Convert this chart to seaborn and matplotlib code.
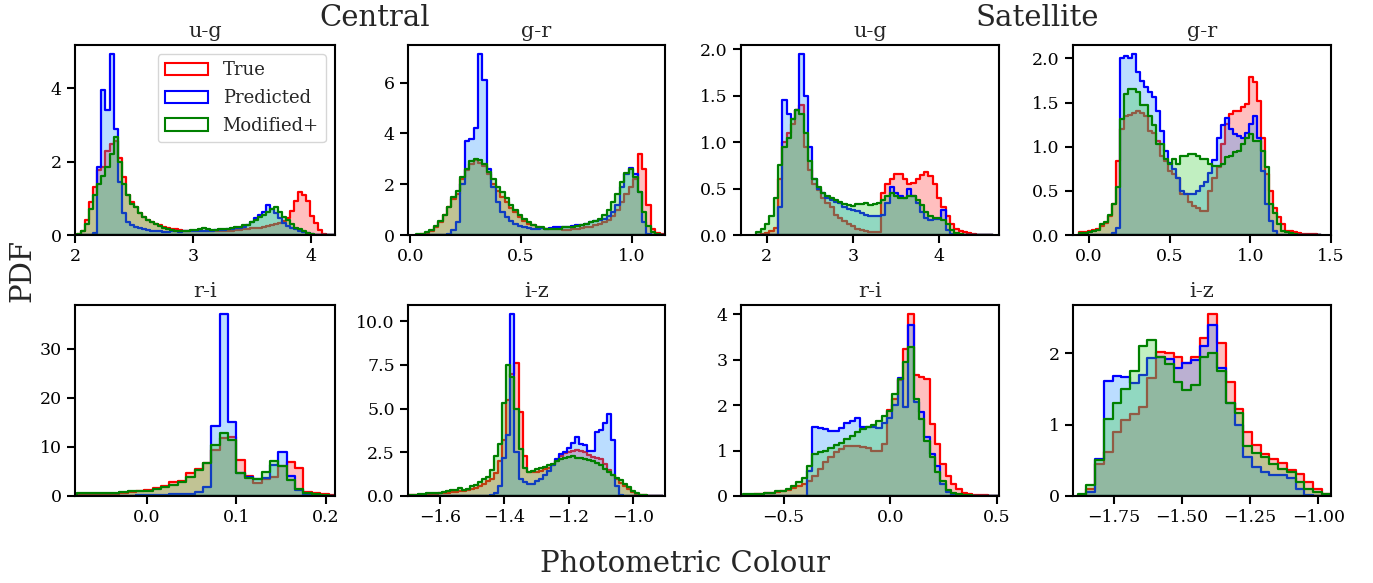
import numpy as np
import matplotlib
matplotlib.use("Agg")
import matplotlib.pyplot as plt
import seaborn as sns
from matplotlib.colors import to_rgba
from matplotlib.patches import Patch

# ---------------- data (PDF heights per bin) ----------------
series_names = ["True", "Predicted", "Modified+"]

# Central u-g : 64 bins on [2.02, 4.196]
cen_ug_bins = (2.02, 4.196, 64)
cen_ug_true = [0.03,0.1,0.4,0.9,1.3,1.77,1.85,2.3,2.47,2.55, 2.1,1.57,1.1,0.89,0.75,0.6,0.5,0.4,0.35,0.3,
               0.27,0.22,0.2,0.17,0.15,0.13,0.12,0.12,0.11,0.11, 0.1,0.1,0.11,0.1,0.11,0.12,0.11,0.12,0.12,0.13,
               0.14,0.15,0.16,0.18,0.18,0.2,0.22,0.25,0.27,0.3, 0.32,0.38,0.45,0.65,0.93,1.16,1.1,0.93,0.52,0.34,
               0.13,0.04,0.01,0.0]
cen_ug_pred = [0,0,0,0,0.05,1.85,3.96,3.4,4.93,2.88, 1.45,0.6,0.35,0.27,0.22,0.18,0.15,0.13,0.12,0.1,
               0.1,0.09,0.09,0.1,0.1,0.09,0.1,0.1,0.11,0.1, 0.11,0.12,0.11,0.12,0.13,0.13,0.14,0.15,0.16,0.18,
               0.2,0.23,0.28,0.35,0.45,0.55,0.62,0.82,0.72,0.6, 0.45,0.33,0.25,0.2,0.15,0.1,0.07,0.05,0.03,0.01,
               0,0,0,0]
cen_ug_mod = [0.02,0.1,0.3,0.7,1.1,1.4,1.6,1.85,2.2,2.68, 2.0,1.4,1.1,0.85,0.75,0.6,0.5,0.42,0.35,0.3,
              0.25,0.2,0.17,0.13,0.1,0.1,0.1,0.12,0.14,0.14, 0.16,0.18,0.16,0.14,0.14,0.15,0.17,0.17,0.2,0.22,
              0.22,0.27,0.28,0.35,0.4,0.5,0.55,0.62,0.7,0.75, 0.62,0.5,0.4,0.3,0.2,0.15,0.1,0.05,0.03,0.01,
              0,0,0,0]

# Central g-r : 56 bins on [0.026, 1.146]
cen_gr_bins = (0.026, 1.146, 56)
cen_gr_true = [0.01,0.03,0.08,0.15,0.3,0.5,0.8,1.1,1.4,1.6, 2.2,2.55,2.8,2.95,2.85,2.7,2.4,2.0,1.75,1.5,
               1.3,1.05,0.9,0.7,0.55,0.45,0.38,0.32,0.28,0.25, 0.23,0.22,0.22,0.2,0.2,0.22,0.25,0.28,0.3,0.33,
               0.38,0.45,0.5,0.6,0.75,1.0,1.3,1.6,1.9,2.2, 3.2,2.6,1.2,0.25,0.08,0.02]
cen_gr_pred = [0,0,0,0,0,0,0,0.05,0.2,0.5, 2.0,3.7,3.8,4.2,7.13,6.1,2.6,1.9,1.3,0.9,
               0.7,0.55,0.45,0.35,0.3,0.28,0.25,0.25,0.27,0.25, 0.28,0.3,0.32,0.32,0.33,0.35,0.38,0.4,0.45,0.5,
               0.55,0.6,0.65,0.75,0.9,1.2,1.9,2.4,2.65,2.4, 1.7,0.5,0.05,0,0,0]
cen_gr_mod = [0.02,0.05,0.1,0.2,0.35,0.55,0.8,1.1,1.5,1.75, 2.3,2.6,2.9,3.0,2.95,2.8,2.5,2.2,1.9,1.7,
              1.45,1.2,1.0,0.8,0.65,0.5,0.4,0.3,0.3,0.25, 0.25,0.22,0.25,0.3,0.3,0.32,0.35,0.4,0.45,0.5,
              0.55,0.65,0.8,1.0,1.3,1.6,2.1,2.45,2.6,2.3, 1.7,0.9,0.35,0.1,0.02,0]

# Satellite u-g : 55 bins on [1.88, 4.63]
sat_ug_bins = (1.88, 4.63, 55)
sat_ug_true = [0,0.01,0.02,0.04,0.08,0.6,1.0,1.1,1.2,1.35, 1.4,0.95,0.7,0.55,0.48,0.4,0.35,0.3,0.22,0.18,
               0.15,0.12,0.1,0.07,0.05,0.04,0.03,0.03,0.03,0.45, 0.55,0.6,0.66,0.66,0.6,0.55,0.56,0.6,0.65,0.68,
               0.64,0.55,0.4,0.3,0.2,0.12,0.07,0.04,0.03,0.02, 0.01,0.005,0,0,0]
sat_ug_pred = [0,0,0,0,0,0.3,1.45,1.3,1.25,1.35, 1.95,1.5,0.95,0.6,0.5,0.45,0.4,0.38,0.36,0.34,
               0.3,0.28,0.27,0.26,0.24,0.22,0.2,0.2,0.2,0.22, 0.35,0.52,0.45,0.42,0.4,0.5,0.42,0.35,0.25,0.18,
               0.16,0.17,0.17,0.27,0.05,0.01,0,0,0,0, 0,0,0,0,0]
sat_ug_mod = [0.03,0.07,0.12,0.2,0.4,0.75,0.95,1.05,1.25,1.35, 1.3,1.1,0.8,0.6,0.52,0.45,0.42,0.4,0.38,0.36,
              0.33,0.32,0.31,0.33,0.33,0.34,0.32,0.33,0.35,0.38, 0.42,0.45,0.42,0.4,0.4,0.42,0.42,0.38,0.32,0.25,
              0.2,0.18,0.18,0.16,0.12,0.05,0.02,0.01,0,0, 0,0,0,0,0]

# Satellite g-r : 60 bins on [-0.06, 1.44]
sat_gr_bins = (-0.06, 1.44, 60)
sat_gr_true = [0.03,0.035,0.045,0.055,0.065,0.1,0.14,0.22,0.35,0.84, 1.2,1.35,1.36,1.38,1.4,1.38,1.35,1.18,1.15,1.07,
               0.9,0.84,0.73,0.69,0.65,0.46,0.46,0.37,0.33,0.31, 0.27,0.27,0.5,0.65,0.77,1.03,1.26,1.37,1.41,1.41,
               1.45,1.48,1.79,1.73,1.52,1.1,0.69,0.5,0.31,0.2, 0.12,0.05,0.04,0.03,0.02,0.015,0.01,0.01,0.01,0.005]
sat_gr_pred = [0,0,0,0,0,0,0,0,0.02,0.08, 2.0,2.03,2.0,2.05,1.85,1.75,1.68,1.62,1.56,1.41,
               1.18,0.95,0.82,0.75,0.65,0.5,0.46,0.46,0.46,0.5, 0.55,0.6,0.7,0.85,1.1,1.25,1.33,1.2,1.14,1.12,
               1.1,1.15,1.26,1.35,1.1,0.73,0.35,0.16,0.05,0, 0,0,0,0,0,0,0,0,0,0]
sat_gr_mod = [0.02,0.02,0.03,0.05,0.06,0.12,0.15,0.23,0.35,0.54, 1.31,1.6,1.65,1.65,1.62,1.47,1.47,1.35,1.25,1.03,
              1.03,0.86,0.8,0.86,0.8,0.9,0.9,0.92,0.92,0.89, 0.86,0.86,0.8,0.78,0.78,0.81,0.88,0.9,0.94,0.95,
              1.03,1.1,1.14,1.07,1.07,0.95,0.77,0.35,0.25,0.12, 0.05,0.03,0.02,0.01,0,0,0,0,0,0]

# Central r-i : 32 bins on [-0.0868, 0.2121]
cen_ri_bins = (-0.0868, 0.2121, 32)
cen_ri_true = [0.3,0.35,0.4,0.4,0.45,0.5,0.7,0.9,1.1,1.2, 1.6,2.0,2.9,3.1,4.6,5.5,6.8,9.4,11.7,12.1,
               7.3,4.0,2.6,3.4,3.9,6.2,7.0,5.6,0.9,0.7, 0.4,0.2]
cen_ri_pred = [0.1,0.1,0.1,0.1,0.1,0.1,0.1,0.1,0.15,0.2, 0.25,0.3,0.35,0.4,0.5,0.8,1.9,14.2,37.0,15.0,
               4.6,3.8,3.5,3.6,6.3,8.9,4.1,1.2,0.3,0.1, 0.03,0.0]
cen_ri_mod = [0.5,0.55,0.6,0.6,0.65,0.7,0.8,0.95,1.0,1.1, 1.5,1.8,2.3,2.9,3.8,5.3,6.8,10.3,12.8,11.4,
              4.6,3.6,3.4,4.8,7.1,6.2,3.3,1.4,0.7,0.4, 0.2,0.1]

# Central i-z : 64 bins on [-1.706, -0.906]
cen_iz_bins = (-1.706, -0.906, 64)
cen_iz_true = [0.05,0.05,0.06,0.08,0.08,0.1,0.12,0.12,0.15,0.17, 0.2,0.22,0.25,0.28,0.3,0.35,0.4,0.45,
               0.55,0.7,0.85,1.0,1.3,2.0,3.2,5.5,7.0,7.6, 4.8,2.3,1.35,1.4,1.35,1.45,1.55,1.6,1.75,2.0,
               2.3,2.45,2.5,2.6,2.65,2.55,2.5,2.35,2.25,2.15, 2.1,1.85,1.5,1.2,0.95,0.75,0.55,0.4,0.25,0.12,
               0.07,0.04,0.02,0.01,0.0,0.0]
cen_iz_pred = [0]*21 + [0.05,0.2,0.6,2.2,3.5,10.4,2.5,1.0,0.8,0.7, 0.7,0.85,1.0,1.2,1.45,1.8,2.1,2.4,2.5,2.75,
               3.05,3.35,3.0,2.9,2.6,2.6,3.65,3.8,4.2,4.7, 3.2,0.6,0.05] + [0]*10
cen_iz_mod = [0.05,0.05,0.08,0.1,0.12,0.15,0.17,0.2,0.2,0.25, 0.3,0.35,0.35,0.45,0.35,0.4,0.55,0.65,0.8,0.95,
              1.1, 1.5,2.3,3.0,5.3,7.5,6.8,5.0,2.7,1.6,1.4, 1.45,1.55,1.6,1.65,1.75,1.85,2.0,2.1,2.2,2.25,
              2.3,2.2,2.15,2.1,2.05,2.0,1.9,1.75,1.55,1.4, 1.2,1.05,0.9,0.7,0.5,0.3,0.15,0.07,0.03,0.01,
              0.0,0.0,0.0]

# Satellite r-i : 48 bins on [-0.69, 0.51]
sat_ri_bins = (-0.69, 0.51, 48)
sat_ri_true = [0.03,0.03,0.04,0.05,0.06,0.07,0.08,0.1,0.13,0.17,0.22,0.27,
               0.33,0.44,0.6,0.74,0.85,0.96,1.03,1.1,1.1,1.1, 1.07,1.05,1.0,1.0,1.14,1.9,2.14,2.55,3.23,4.0,
               2.66,2.62,2.58,1.59,1.14,0.7,0.44,0.26,0.15,0.06, 0.04,0.03,0.02,0.015,0.01,0.01]
sat_ri_pred = [0]*12 + [0.55, 1.51,1.5,1.48,1.42,1.42,1.5,1.6,1.65,1.72,1.52, 1.52,1.52,1.5,1.6,1.72,2.0,2.6,1.95,3.76,2.07,
               1.85,1.3,0.92,0.66,0.26,0.09,0.02] + [0]*8
sat_ri_mod = [0.04,0.04,0.04,0.04,0.06,0.07,0.1,0.11,0.15,0.22, 0.3,0.4,0.66,0.92,0.96,1.0,1.05,1.12,1.16,1.25,
              1.33,1.4,1.48,1.51,1.57,1.66,1.77,1.88,2.25,2.58, 2.95,3.28,2.14,1.7,1.22,0.85,0.52,0.33,0.13,0.07,
              0.04,0.03,0.02,0.01,0.01,0.0,0.0,0.0]

# Satellite i-z : 29 bins on [-1.883, -0.955]
sat_iz_bins = (-1.883, -0.955, 29)
sat_iz_true = [0.02,0.1,0.45,0.62,0.9,1.07,1.15,1.25,1.65,2.02, 2.0,1.95,1.87,1.95,2.22,2.55,2.14,1.6,1.22,0.9,
               0.72,0.59,0.52,0.46,0.36,0.31,0.19,0.1,0.03]
sat_iz_pred = [0.0,0.05,0.52,1.61,1.68,1.67,1.58,1.7,1.93,1.95, 1.92,1.8,1.87,1.9,2.1,2.4,1.8,1.3,1.0,0.55,
               0.4,0.33,0.3,0.3,0.25,0.1,0.02,0.0,0.0]
sat_iz_mod = [0.03,0.15,0.5,1.08,1.3,1.5,1.75,2.1,2.18,1.95, 1.85,1.6,1.48,1.55,1.95,2.0,1.75,1.3,1.17,0.7,
              0.6,0.55,0.45,0.38,0.33,0.2,0.1,0.05,0.03]

titles = ["u-g", "g-r", "u-g", "g-r", "r-i", "i-z", "r-i", "i-z"]
panel_bins = [cen_ug_bins, cen_gr_bins, sat_ug_bins, sat_gr_bins,
              cen_ri_bins, cen_iz_bins, sat_ri_bins, sat_iz_bins]
panel_data = [(cen_ug_true, cen_ug_pred, cen_ug_mod), (cen_gr_true, cen_gr_pred, cen_gr_mod),
              (sat_ug_true, sat_ug_pred, sat_ug_mod), (sat_gr_true, sat_gr_pred, sat_gr_mod),
              (cen_ri_true, cen_ri_pred, cen_ri_mod), (cen_iz_true, cen_iz_pred, cen_iz_mod),
              (sat_ri_true, sat_ri_pred, sat_ri_mod), (sat_iz_true, sat_iz_pred, sat_iz_mod)]
xlims = [(2.0, 4.2), (-0.01, 1.15), (1.7, 4.7), (-0.1, 1.5),
         (-0.08, 0.21), (-1.7, -0.9), (-0.7, 0.51), (-1.9, -0.953)]
xticks = [[2, 3, 4], [0.0, 0.5, 1.0], [2, 3, 4], [0.0, 0.5, 1.0, 1.5],
          [0.0, 0.1, 0.2], [-1.6, -1.4, -1.2, -1.0], [-0.5, 0.0, 0.5], [-1.75, -1.50, -1.25, -1.00]]
yticks = [[0, 2, 4], [0, 2, 4, 6], [0.0, 0.5, 1.0, 1.5, 2.0], [0.0, 0.5, 1.0, 1.5, 2.0],
          [0, 10, 20, 30], [0.0, 2.5, 5.0, 7.5, 10.0], [0, 1, 2, 3, 4], [0, 1, 2]]

edge_colors = ["red", "blue", "green"]
fill_colors = [to_rgba("red", 0.25), to_rgba("dodgerblue", 0.3), to_rgba("limegreen", 0.3)]

# ---------------- style ----------------
sns.set_theme(style="ticks")
plt.rcParams["font.family"] = ["DejaVu Serif"]
plt.rcParams["axes.edgecolor"] = "black"
plt.rcParams["axes.linewidth"] = 1.5
plt.rcParams["xtick.color"] = "black"
plt.rcParams["ytick.color"] = "black"

fig = plt.figure(figsize=(13.73, 5.83), dpi=100)
W, H = 1373, 583
col_px = [(75, 335), (408, 665), (741, 999), (1073, 1331)]
row_px = [(45, 235), (305, 496)]

axes = []
for i in range(8):
    r, c = divmod(i, 4)
    x0, x1 = col_px[c]
    t, b = row_px[r]
    ax = fig.add_axes([x0 / W, 1 - b / H, (x1 - x0) / W, (b - t) / H])
    axes.append(ax)
    lo, hi, n = panel_bins[i]
    edges = np.linspace(lo, hi, n + 1)
    centers = 0.5 * (edges[:-1] + edges[1:])
    for vals, ec, fc, name in zip(panel_data[i], edge_colors, fill_colors, series_names):
        sns.histplot(x=list(centers), weights=list(map(float, vals)), bins=list(edges),
                     element="step", fill=True, color=ec, facecolor=fc, linewidth=1.6,
                     ax=ax, label=name)
    ax.set_xlim(*xlims[i])
    ax.set_xticks(xticks[i])
    ax.set_yticks(yticks[i])
    ax.set_xlabel("")
    ax.set_ylabel("")
    ax.set_title(titles[i], fontsize=15, pad=6)
    ax.tick_params(axis="both", which="major", length=6, width=1.5, labelsize=12.5, direction="out")
    for s in ax.spines.values():
        s.set_linewidth(1.5)
        s.set_color("black")

handles = [Patch(facecolor="white", edgecolor=ec, linewidth=1.5, label=nm)
           for ec, nm in zip(edge_colors, series_names)]
axes[0].legend(handles=handles, loc="upper right", fontsize=13, handlelength=2.4,
               labelspacing=0.55, frameon=True, framealpha=0.8)

fig.text(375 / W, 1 - 18 / H, "Central", ha="center", va="center", fontsize=21)
fig.text(1037 / W, 1 - 18 / H, "Satellite", ha="center", va="center", fontsize=21)
fig.text(22 / W, 1 - 270 / H, "PDF", ha="center", va="center", rotation=90, fontsize=21)
fig.text(685 / W, 1 - 564 / H, "Photometric Colour", ha="center", va="center", fontsize=21)

fig.savefig("out.png", dpi=100)
